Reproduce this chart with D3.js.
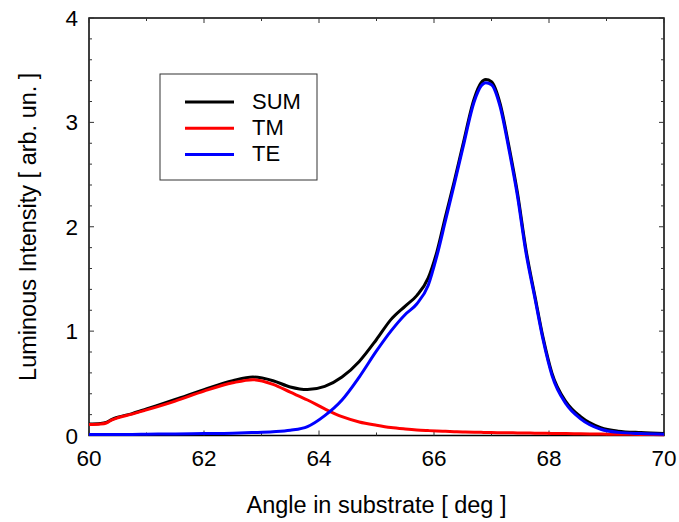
<!DOCTYPE html>
<html>
<head>
<meta charset="utf-8">
<script src="https://cdn.jsdelivr.net/npm/d3@7"></script>
<style>
  body { margin: 0; background: #fff; }
  svg text { font-family: "Liberation Sans", Arial, sans-serif; fill: #000; }
</style>
</head>
<body>
<svg id="chart"></svg>
<script>
const width = 679;
const height = 522;

// angle in substrate [deg]
const angles = [60, 60.2, 60.3, 60.4, 60.5, 60.75, 61, 61.5, 62, 62.5, 62.85, 63.2, 63.5, 63.8,
    64.1, 64.4, 64.7, 65, 65.25, 65.5, 65.7, 65.9, 66.05, 66.2, 66.35, 66.5, 66.7, 66.82, 66.9,
    67, 67.15, 67.3, 67.45, 67.6, 67.75, 67.9, 68.05, 68.3, 68.55, 68.9, 69.2, 69.6, 70];

const sumValues = [0.11, 0.115, 0.125, 0.155, 0.175, 0.21, 0.255, 0.345, 0.44, 0.525, 0.56, 0.525, 0.465, 0.44,
    0.47, 0.56, 0.71, 0.92, 1.11, 1.24, 1.34, 1.51, 1.76, 2.1, 2.43, 2.78, 3.23, 3.38, 3.41,
    3.39, 3.18, 2.78, 2.33, 1.78, 1.35, 0.93, 0.6, 0.32, 0.18, 0.075, 0.042, 0.028, 0.02];

const tmValues = [0.105, 0.11, 0.12, 0.15, 0.17, 0.205, 0.245, 0.33, 0.425, 0.505, 0.535, 0.49, 0.415, 0.34,
    0.255, 0.18, 0.13, 0.098, 0.076, 0.062, 0.053, 0.047, 0.043, 0.04, 0.037, 0.034, 0.031, 0.03, 0.029,
    0.028, 0.027, 0.026, 0.025, 0.024, 0.022, 0.021, 0.02, 0.018, 0.016, 0.014, 0.012, 0.01, 0.008];

const teValues = [0.01, 0.01, 0.01, 0.01, 0.01, 0.01, 0.012, 0.015, 0.018, 0.022, 0.028, 0.036, 0.05, 0.085,
    0.19, 0.34, 0.56, 0.81, 1.0, 1.16, 1.26, 1.44, 1.72, 2.06, 2.4, 2.75, 3.2, 3.35, 3.38,
    3.36, 3.15, 2.75, 2.3, 1.75, 1.33, 0.91, 0.58, 0.3, 0.16, 0.06, 0.03, 0.018, 0.012];

const seriesNames = ["SUM", "TM", "TE"];
const seriesColors = ["#000000", "#ff0000", "#0000ff"];
const xTicks = [60, 62, 64, 66, 68, 70];
const yTicks = [0, 1, 2, 3, 4];

const margin = { top: 18, right: 15, bottom: 86.5, left: 89 };
const plotW = width - margin.left - margin.right;
const plotH = height - margin.top - margin.bottom;

const svg = d3.select("#chart")
    .attr("width", width)
    .attr("height", height);

const g = svg.append("g")
    .attr("transform", `translate(${margin.left},${margin.top})`);

const x = d3.scaleLinear().domain([60, 70]).range([0, plotW]);
const y = d3.scaleLinear().domain([0, 4]).range([plotH, 0]);

// plot box
g.append("rect")
    .attr("width", plotW)
    .attr("height", plotH)
    .attr("fill", "none")
    .attr("stroke", "#000")
    .attr("stroke-width", 1.5);

// inward ticks on all four sides
const xMinor = d3.range(60, 70.001, 1);
const yMinor = d3.range(0, 4.001, 0.2);

xMinor.forEach(v => {
    const len = (Math.round(v) % 2 === 0) ? 5 : 3;
    g.append("line").attr("x1", x(v)).attr("x2", x(v))
        .attr("y1", plotH).attr("y2", plotH - len).attr("stroke", "#333");
    g.append("line").attr("x1", x(v)).attr("x2", x(v))
        .attr("y1", 0).attr("y2", len).attr("stroke", "#333");
});
yMinor.forEach(v => {
    const len = (Math.abs(v - Math.round(v)) < 1e-6) ? 5 : 3;
    g.append("line").attr("x1", 0).attr("x2", len)
        .attr("y1", y(v)).attr("y2", y(v)).attr("stroke", "#333");
    g.append("line").attr("x1", plotW).attr("x2", plotW - len)
        .attr("y1", y(v)).attr("y2", y(v)).attr("stroke", "#333");
});

// tick labels
g.selectAll(".xlab")
    .data(xTicks)
    .enter().append("text")
    .attr("x", d => x(d))
    .attr("y", plotH + 30)
    .attr("text-anchor", "middle")
    .style("font-size", "22.5px")
    .text(d => d);

g.selectAll(".ylab")
    .data(yTicks)
    .enter().append("text")
    .attr("x", -11)
    .attr("y", d => y(d) + 8)
    .attr("text-anchor", "end")
    .style("font-size", "22.5px")
    .text(d => d);

// axis titles
svg.append("text")
    .attr("x", margin.left + plotW / 2)
    .attr("y", 513)
    .attr("text-anchor", "middle")
    .style("font-size", "23.5px")
    .text("Angle in substrate [ deg ]");

svg.append("text")
    .attr("transform", `translate(36,${margin.top + plotH / 2}) rotate(-90)`)
    .attr("text-anchor", "middle")
    .style("font-size", "23.5px")
    .text("Luminous Intensity [ arb. un. ]");

// curves
const allSeries = [sumValues, tmValues, teValues];
const line = d3.line()
    .x((d, i) => x(angles[i]))
    .y(d => y(d))
    .curve(d3.curveMonotoneX);

g.append("g")
    .selectAll("path")
    .data(allSeries)
    .enter().append("path")
    .attr("d", d => line(d))
    .attr("fill", "none")
    .attr("stroke", (d, i) => seriesColors[i])
    .attr("stroke-width", 3)
    .attr("stroke-linejoin", "round");

// legend
const legend = svg.append("g").attr("transform", "translate(160,74)");
legend.append("rect")
    .attr("width", 157)
    .attr("height", 106)
    .attr("fill", "#fff")
    .attr("stroke", "#333")
    .attr("stroke-width", 1);

seriesNames.forEach((name, i) => {
    const ly = 28 + i * 26.3;
    legend.append("line")
        .attr("x1", 25).attr("x2", 74)
        .attr("y1", ly).attr("y2", ly)
        .attr("stroke", seriesColors[i])
        .attr("stroke-width", 3);
    legend.append("text")
        .attr("x", 92)
        .attr("y", ly + 6.5)
        .style("font-size", "22px")
        .text(name);
});
</script>
</body>
</html>
